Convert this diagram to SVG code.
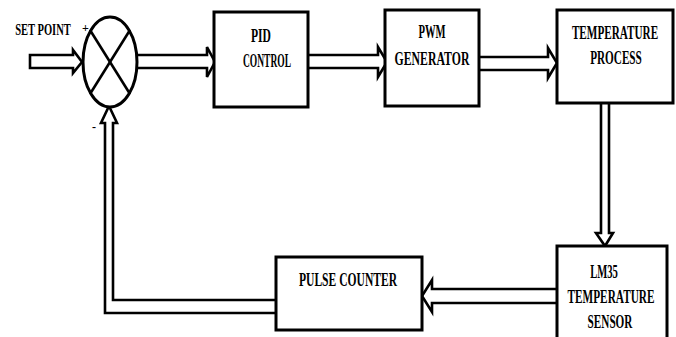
<svg xmlns="http://www.w3.org/2000/svg" width="676" height="337" viewBox="0 0 676 337">
<style>
.box{fill:#fff;stroke:#000;stroke-width:3}
.arr{fill:#fff;stroke:#000;stroke-width:2.6;stroke-linejoin:miter}
.t{font-family:"Liberation Serif","Times New Roman",serif;font-weight:bold;font-size:19px;fill:#000;text-anchor:middle}
.s{font-family:"Liberation Serif","Times New Roman",serif;font-weight:bold;font-size:12px;fill:#000}
</style>
<rect width="676" height="337" fill="#fff"/>
<g id="connectors">
<path class="arr" d="M30,55 H73 V50 L82,62 L73,73 V68 H30 Z"/>
<path class="arr" d="M137,55 H207 V47 L215,62 L207,77 V68 H137"/>
<path class="arr" d="M308,55 H378 V47 L387,62 L378,77 V68 H308"/>
<path class="arr" d="M480,57 H548 V48 L557,63 L548,78 V70 H480"/>
<path class="arr" d="M601,103 V233 H596 L605,246 L613,233 H609 V103"/>
<path class="arr" d="M557,289 H432 V280 L422,296 L432,312 V303 H557"/>
<path class="arr" d="M276,300 H113 V123 H117 L109,106 L101,123 H105 V313 H276"/>
</g>
<g id="setpoint">
<text class="t" style="font-size:17px" transform="translate(43,35) scale(0.62,1)">SET POINT</text>
</g>
<g id="sum">
<ellipse cx="110" cy="62" rx="27" ry="45" fill="#fff" stroke="#000" stroke-width="3"/>
<line x1="90" y1="30" x2="130" y2="94" stroke="#000" stroke-width="2.6"/>
<line x1="130" y1="30" x2="90" y2="94" stroke="#000" stroke-width="2.6"/>
<text class="s" x="82" y="32">+</text>
<text class="s" x="92" y="131">-</text>
</g>
<g id="pid">
<rect class="box" x="214" y="12" width="94" height="95"/>
<text class="t" transform="translate(261,42) scale(0.61,1)">PID</text>
<text class="t" transform="translate(267,67) scale(0.5,1)">CONTROL</text>
</g>
<g id="pwm">
<rect class="box" x="385" y="10" width="94" height="96"/>
<text class="t" transform="translate(432,38) scale(0.56,1)">PWM</text>
<text class="t" transform="translate(432,65) scale(0.62,1)">GENERATOR</text>
</g>
<g id="process">
<rect class="box" x="557" y="10" width="116" height="93"/>
<text class="t" transform="translate(615,39) scale(0.59,1)">TEMPERATURE</text>
<text class="t" transform="translate(616,64) scale(0.59,1)">PROCESS</text>
</g>
<g id="sensor">
<rect class="box" x="557" y="246" width="110" height="100"/>
<text class="t" transform="translate(604,278) scale(0.56,1)">LM35</text>
<text class="t" transform="translate(611,303) scale(0.595,1)">TEMPERATURE</text>
<text class="t" transform="translate(610,328) scale(0.59,1)">SENSOR</text>
</g>
<g id="counter">
<rect class="box" x="276" y="257" width="146" height="73"/>
<text class="t" transform="translate(348,286) scale(0.61,1)">PULSE COUNTER</text>
</g>
</svg>
